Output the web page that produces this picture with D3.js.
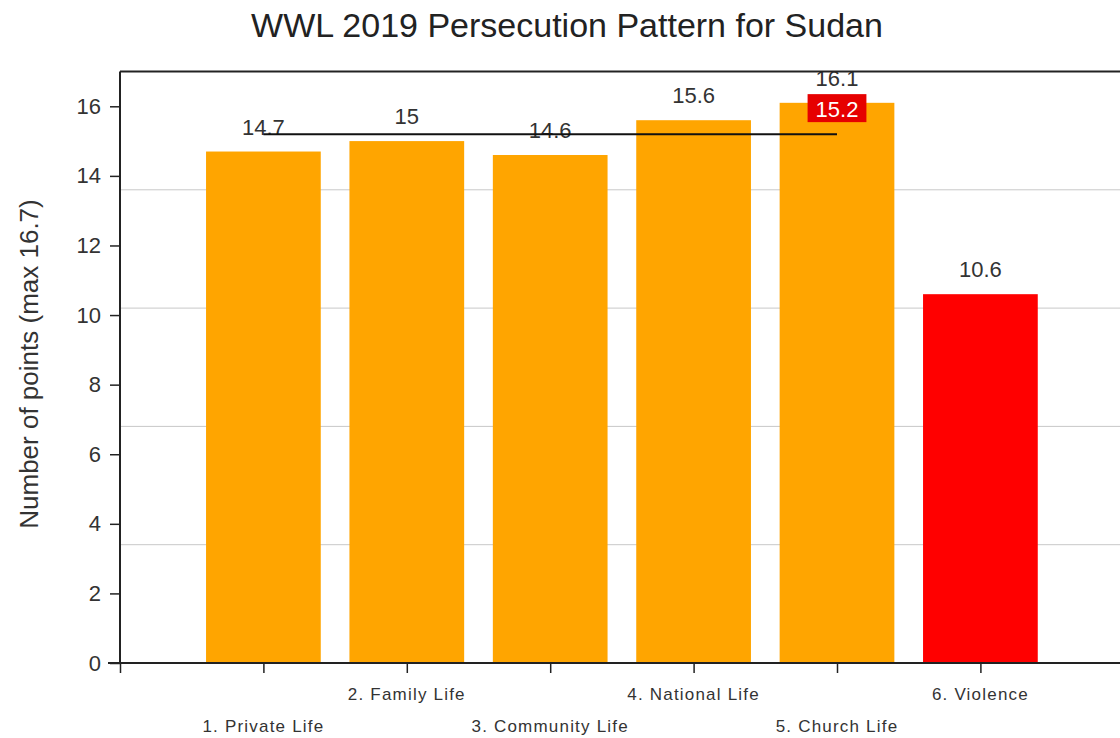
<!DOCTYPE html>
<html>
<head>
<meta charset="utf-8">
<script src="https://cdn.jsdelivr.net/npm/d3@7"></script>
<style>
  html, body { margin: 0; padding: 0; background: #fff; }
  svg { display: block; }
  text { font-family: "Liberation Sans", Arial, sans-serif; }
</style>
</head>
<body>
<svg id="chart" width="1120" height="738"></svg>
<script>
// Persecution pattern scores per sphere of life (max 16.7 each)
const categories = ["1. Private Life", "2. Family Life", "3. Community Life",
                    "4. National Life", "5. Church Life", "6. Violence"];
const values = [14.7, 15, 14.6, 15.6, 16.1, 10.6];
const barColors = ["#ffa500", "#ffa500", "#ffa500", "#ffa500", "#ffa500", "#ff0000"];
// Average of the five spheres of pressure (1-5)
const averageValue = 15.2;
const yTicks = [0, 2, 4, 6, 8, 10, 12, 14, 16];
const yGrid = [3.4, 6.8, 10.2, 13.6];
const titleText = "WWL 2019 Persecution Pattern for Sudan";
const yLabelText = "Number of points (max 16.7)";

const svg = d3.select("#chart");
const W = 1120, H = 738;
const plotLeft = 120, plotTop = 71.5, plotBottom = 663;

// Categories sit at integer positions 1..6 on a linear axis starting at 0
const x = d3.scaleLinear().domain([0, 7]).range([plotLeft, plotLeft + 7 * 143.4]);
const y = d3.scaleLinear().domain([0, 17]).range([plotBottom, plotTop]);
const barW = x(0.8) - x(0);

// Title
svg.append("text")
  .attr("x", 567).attr("y", 37)
  .attr("text-anchor", "middle")
  .attr("font-size", 34)
  .attr("fill", "#222")
  .text(titleText);

// Horizontal grid lines (behind the bars)
svg.append("g").selectAll("line").data(yGrid).join("line")
  .attr("x1", plotLeft).attr("x2", W)
  .attr("y1", d => y(d)).attr("y2", d => y(d))
  .attr("stroke", "#c8c8c8").attr("stroke-width", 1);

// Bars
svg.append("g").selectAll("rect").data(values).join("rect")
  .attr("x", (d, i) => x(i + 1) - barW / 2)
  .attr("y", d => y(d))
  .attr("width", barW)
  .attr("height", d => y(0) - y(d))
  .attr("fill", (d, i) => barColors[i]);

// Value labels above bars
svg.append("g").selectAll("text").data(values).join("text")
  .attr("x", (d, i) => x(i + 1))
  .attr("y", d => y(d) - 17)
  .attr("text-anchor", "middle")
  .attr("font-size", 22)
  .attr("fill", "#333")
  .text(d => String(d));

// Average line across spheres 1-5
svg.append("line")
  .attr("x1", x(1)).attr("x2", x(5))
  .attr("y1", y(averageValue)).attr("y2", y(averageValue))
  .attr("stroke", "#111").attr("stroke-width", 2);

// Average badge
const badge = svg.append("g");
const badgeText = badge.append("text")
  .attr("x", x(5))
  .attr("y", y(averageValue) - 17)
  .attr("text-anchor", "middle")
  .attr("font-size", 22)
  .attr("fill", "#fff")
  .text(String(averageValue));
const bb = badgeText.node().getBBox();
badge.insert("rect", "text")
  .attr("x", bb.x - 8).attr("width", bb.width + 16)
  .attr("y", y(averageValue) - 40).attr("height", 28)
  .attr("fill", "#e60000");

// Top frame line
svg.append("line")
  .attr("x1", plotLeft).attr("x2", W)
  .attr("y1", plotTop).attr("y2", plotTop)
  .attr("stroke", "#222").attr("stroke-width", 2);

// Y axis
const yAxis = svg.append("g")
  .attr("transform", `translate(${plotLeft},0)`)
  .call(d3.axisLeft(y).tickValues(yTicks).tickSize(10).tickPadding(9).tickFormat(d3.format("d")));
yAxis.select(".domain").remove();
yAxis.selectAll(".tick line").attr("stroke", "#222").attr("stroke-width", 1.5);
yAxis.selectAll(".tick text").attr("font-size", 22).attr("fill", "#333")
  .attr("font-family", "Liberation Sans, Arial, sans-serif");
svg.append("line")
  .attr("x1", plotLeft).attr("x2", plotLeft)
  .attr("y1", plotTop).attr("y2", plotBottom)
  .attr("stroke", "#222").attr("stroke-width", 2);

// X axis: ticks at 0..6, labels staggered in two rows
const xAxis = svg.append("g")
  .attr("transform", `translate(0,${plotBottom})`)
  .call(d3.axisBottom(x).tickValues(d3.range(0, 7)).tickSize(10).tickFormat(""));
xAxis.select(".domain").remove();
xAxis.selectAll(".tick line").attr("stroke", "#222").attr("stroke-width", 1.5);
svg.append("line")
  .attr("x1", 108).attr("x2", W)
  .attr("y1", plotBottom).attr("y2", plotBottom)
  .attr("stroke", "#222").attr("stroke-width", 2);

svg.append("g").selectAll("text").data(categories).join("text")
  .attr("x", (d, i) => x(i + 1))
  .attr("y", (d, i) => i % 2 === 1 ? 700 : 732)
  .attr("text-anchor", "middle")
  .attr("font-size", 17)
  .attr("letter-spacing", 1.2)
  .attr("fill", "#333")
  .text(d => d);

// Y axis title
svg.append("text")
  .attr("transform", "translate(38,364) rotate(-90)")
  .attr("text-anchor", "middle")
  .attr("font-size", 26)
  .attr("fill", "#333")
  .text(yLabelText);
</script>
</body>
</html>
